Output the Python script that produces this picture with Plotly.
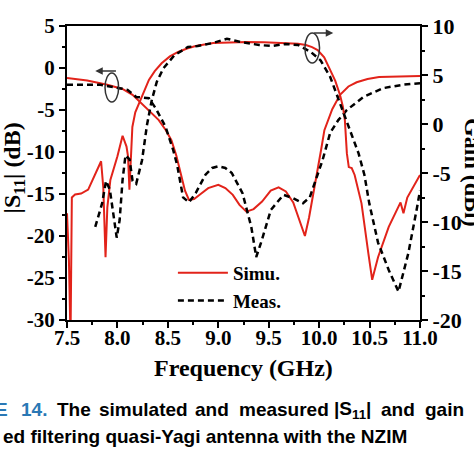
import plotly.graph_objects as go

# ---------------- data ----------------
freq_s11_sim = [7.50, 7.70, 7.90, 8.05, 8.15, 8.245, 8.33, 8.41, 8.48, 8.535, 8.583, 8.631,
                8.67, 8.709, 8.76, 8.825, 8.90, 9.00, 9.07, 9.144, 9.21, 9.279, 9.35, 9.434,
                9.52, 9.598, 9.67, 9.743, 9.80, 9.859, 9.90, 9.95, 9.985, 10.02, 10.052,
                10.13, 10.207, 10.29, 10.372, 10.48, 10.594, 10.80, 11.00]
s11_sim = [-1.2, -1.5, -2.0, -2.5, -3.2, -4.3, -5.2, -6.2, -7.4, -8.6, -10.4, -12.7,
           -14.6, -15.7, -15.6, -15.0, -14.3, -13.9, -14.3, -15.1, -16.3, -17.1, -16.8, -15.9,
           -14.6, -14.2, -14.7, -16.0, -18.0, -20.0, -17.8, -14.2, -12.1, -9.7, -7.4,
           -4.9, -3.2, -2.2, -1.7, -1.3, -1.07, -0.97, -0.95]

freq_s11_meas = [7.50, 7.83, 8.02, 8.10, 8.186, 8.25, 8.312, 8.38, 8.477, 8.554, 8.593, 8.651,
                 8.709, 8.776, 8.873, 8.94, 9.00, 9.07, 9.134, 9.24, 9.327, 9.376, 9.424, 9.521,
                 9.646, 9.743, 9.84, 9.907, 9.965, 10.033, 10.11, 10.19, 10.275, 10.439,
                 10.633, 10.826, 11.00]
s11_meas = [-2.0, -2.0, -2.4, -2.6, -3.45, -3.5, -3.6, -4.8, -7.0, -9.8, -11.6, -15.4,
            -16.0, -14.9, -12.7, -11.9, -11.7, -11.9, -12.5, -14.9, -18.9, -22.5, -20.8, -16.9,
            -15.1, -15.5, -16.1, -15.4, -13.3, -11.0, -7.7, -6.2, -5.0, -3.45,
            -2.4, -2.0, -1.8]

freq_gain_sim = [7.50, 7.519, 7.535, 7.548, 7.58, 7.64, 7.71, 7.79, 7.838, 7.86, 7.882, 7.90,
                 7.93, 8.00, 8.051, 8.09, 8.105, 8.119, 8.135, 8.148, 8.177, 8.215, 8.26, 8.312,
                 8.37, 8.438, 8.52, 8.602, 8.69, 8.776, 8.95, 9.10, 9.279, 9.45, 9.598, 9.791,
                 9.869, 9.93, 9.985, 10.05, 10.11, 10.16, 10.207, 10.235, 10.255, 10.275,
                 10.294, 10.323, 10.352, 10.42, 10.488, 10.526, 10.584, 10.69, 10.807, 10.836,
                 10.874, 11.00]
gain_sim = [-9.1, -13.9, -22.0, -7.5, -7.2, -7.1, -6.7, -4.9, -3.8, -6.5, -13.6, -8.5,
            -5.7, -3.3, -1.2, -2.3, -3.3, -6.7, -3.0, -0.3, 1.2, 2.1, 3.3, 4.5,
            5.4, 6.2, 6.9, 7.35, 7.7, 7.96, 8.27, 8.35, 8.37, 8.33, 8.27, 8.2,
            8.06, 7.85, 7.55, 6.8, 5.5, 4.4, 2.96, 1.8, 0.4, -3.0,
            -4.4, -4.5, -5.2, -8.1, -13.2, -15.9, -13.6, -10.5, -8.0, -9.1,
            -7.5, -5.2]

freq_gain_meas = [7.78, 7.848, 7.887, 7.925, 7.993, 8.022, 8.051, 8.08, 8.12, 8.15, 8.186,
                  8.21, 8.244, 8.293, 8.341, 8.39, 8.457, 8.564, 8.699, 8.796, 8.95, 9.086,
                  9.211, 9.405, 9.53, 9.666, 9.791, 9.917, 10.014, 10.11, 10.207, 10.304,
                  10.391, 10.449, 10.497, 10.584, 10.69, 10.787, 10.884, 10.971, 11.00]
gain_meas = [-10.5, -8.1, -5.8, -6.7, -11.6, -9.8, -5.7, -3.2, -3.6, -5.8, -6.1,
             -5.2, -3.7, -0.1, 2.45, 4.3, 5.7, 7.0, 7.86, 7.96, 8.27, 8.7,
             8.4, 8.06, 7.96, 8.16, 8.06, 7.35, 6.5, 4.8, 2.1, -0.6,
             -3.0, -5.2, -8.1, -12.1, -14.9, -17.1, -13.2, -8.5, -6.8]

x_ticks = [7.5, 8.0, 8.5, 9.0, 9.5, 10.0, 10.5, 11.0]
x_tick_labels = ["7.5", "8.0", "8.5", "9.0", "9.5", "10.0", "10.5", "11.0"]
s11_ticks = [5, 0, -5, -10, -15, -20, -25, -30]
s11_tick_labels = ["5", "0", "-5", "-10", "-15", "-20", "-25", "-30"]
gain_ticks = [10, 5, 0, -5, -10, -15, -20]
gain_tick_labels = ["10", "5", "0", "-5", "-10", "-15", "-20"]

# ---------------- styling ----------------
RED = "#e2231a"
SERIF = "Liberation Serif"
SANS = "Liberation Sans"
BLUE = "#2a78b5"

fig = go.Figure()
fig.add_trace(go.Scatter(x=freq_s11_sim, y=s11_sim, mode="lines", name="Simu.",
                         line=dict(color=RED, width=2), yaxis="y"))
fig.add_trace(go.Scatter(x=freq_s11_meas, y=s11_meas, mode="lines", name="Meas.",
                         line=dict(color="black", width=2.5, dash="6px,4px"), yaxis="y"))
fig.add_trace(go.Scatter(x=freq_gain_sim, y=gain_sim, mode="lines", showlegend=False,
                         line=dict(color=RED, width=2), yaxis="y2"))
fig.add_trace(go.Scatter(x=freq_gain_meas, y=gain_meas, mode="lines", showlegend=False,
                         line=dict(color="black", width=2.5, dash="6px,4px"), yaxis="y2"))


def axis_common(size):
    return dict(showline=True, linewidth=2, linecolor="black", ticks="outside", ticklen=6,
                tickwidth=2, tickcolor="black", showgrid=False, zeroline=False,
                tickfont=dict(family=SERIF, size=size, color="black", weight="bold"))


fig.update_layout(
    width=474, height=474,
    margin=dict(l=67, r=44, t=26, b=154),
    paper_bgcolor="white", plot_bgcolor="white",
    showlegend=True,
    legend=dict(x=0.30, y=0.225, xanchor="left", yanchor="top", bgcolor="rgba(0,0,0,0)",
                font=dict(family=SERIF, size=19, color="black", weight="bold"),
                itemwidth=50, tracegroupgap=0),
    xaxis=dict(range=[7.5, 11.0], tickmode="array", tickvals=x_ticks, ticktext=x_tick_labels,
               mirror=True, ticklabelstandoff=-8,
               minor=dict(tickmode="linear", tick0=7.5, dtick=0.25, ticks="outside",
                          ticklen=3, tickwidth=1.5, tickcolor="black"),
               **axis_common(21)),
    yaxis=dict(range=[-30, 5], tickmode="array", tickvals=s11_ticks, ticktext=s11_tick_labels,
               minor=dict(tickmode="linear", tick0=0, dtick=2.5, ticks="outside",
                          ticklen=3, tickwidth=1.5, tickcolor="black"),
               **axis_common(21)),
    yaxis2=dict(range=[-20, 10], overlaying="y", side="right", anchor="x",
                tickmode="array", tickvals=gain_ticks, ticktext=gain_tick_labels,
                minor=dict(tickmode="linear", tick0=0, dtick=2.5, ticks="outside",
                           ticklen=3, tickwidth=1.5, tickcolor="black"),
                **axis_common(22)),
)

# axis titles
fig.add_annotation(text="Frequency (GHz)", xref="paper", yref="paper", x=0.4986, y=-0.163,
                   xanchor="center", yanchor="middle", showarrow=False,
                   font=dict(family=SERIF, size=24, color="black", weight="bold"))
fig.add_annotation(text="|S<sub>11</sub>| (dB)", xref="paper", yref="paper", x=-0.149, y=0.517,
                   xanchor="center", yanchor="middle", showarrow=False, textangle=-90,
                   font=dict(family=SERIF, size=24, color="black", weight="bold"))
fig.add_annotation(text="Gain (dBi)", xref="paper", yref="paper", x=1.15, y=0.5,
                   xanchor="center", yanchor="middle", showarrow=False, textangle=90,
                   font=dict(family=SERIF, size=24, color="black", weight="bold"))

# ellipses + arrows marking which axis each curve pair uses
fig.add_shape(type="circle", xref="x", yref="y", x0=7.877, x1=8.012, y0=-4.05, y1=-0.6,
              line=dict(color="#333333", width=1.5))
fig.add_shape(type="circle", xref="x", yref="y", x0=9.859, x1=10.004, y0=0.6, y1=4.17,
              line=dict(color="#333333", width=1.5))
fig.add_annotation(x=7.78, y=-0.36, ax=8.0, ay=-0.36, xref="x", yref="y", axref="x", ayref="y",
                   text="", showarrow=True, arrowhead=2, arrowsize=1, arrowwidth=1.5,
                   arrowcolor="#333333")
fig.add_annotation(x=10.14, y=4.17, ax=9.935, ay=4.17, xref="x", yref="y", axref="x", ayref="y",
                   text="", showarrow=True, arrowhead=2, arrowsize=1, arrowwidth=1.5,
                   arrowcolor="#333333")

# caption (cropped in the reference)
cap_font = dict(family=SANS, size=19, color="black", weight="bold")
line1_y = -0.306
fig.add_annotation(text="FIGURE", xref="paper", yref="paper", x=-0.1625, y=line1_y,
                   xanchor="right", yanchor="middle", showarrow=False,
                   font=dict(family=SANS, size=19, color=BLUE, weight="bold"))
fig.add_annotation(text="14.", xref="paper", yref="paper", x=-0.137, y=line1_y,
                   xanchor="left", yanchor="middle", showarrow=False,
                   font=dict(family=SANS, size=19, color=BLUE, weight="bold"))
words1 = [("The", 55), ("simulated", 98), ("and", 197), ("measured", 242),
          ("|S<sub>11</sub>|", 339), ("and", 388), ("gain", 433)]
for w, px in words1:
    fig.add_annotation(text=w, xref="paper", yref="paper", x=(px - 67) / 363, y=line1_y,
                       xanchor="left", yanchor="middle", showarrow=False, font=cap_font)
fig.add_annotation(text="ed filtering quasi-Yagi antenna with the NZIM", xref="paper",
                   yref="paper", x=-0.187, y=-0.397, xanchor="left", yanchor="middle",
                   showarrow=False, font=cap_font)

fig.write_html("out.html", config={"displayModeBar": False},
               post_script="document.body.style.margin='0px';document.body.style.overflow='hidden';")
